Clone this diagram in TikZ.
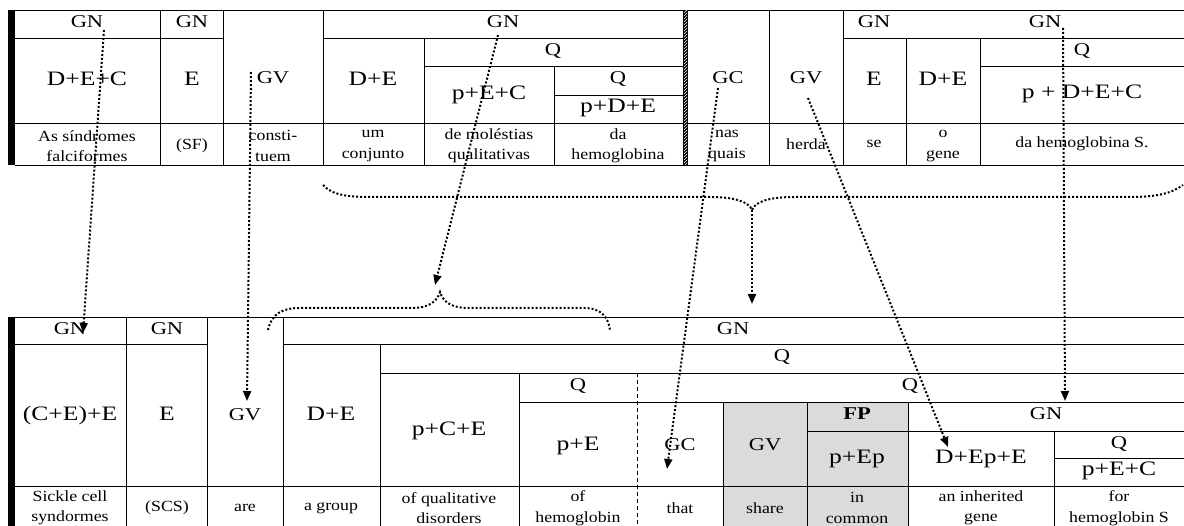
\documentclass[tikz,border=0pt]{standalone}
\usepackage{fontspec}
\setmainfont{Liberation Serif}[FakeStretch=1.15]
\newfontfamily\widefont{Liberation Serif}[FakeStretch=1.25]
\usetikzlibrary{arrows.meta,patterns}
\begin{document}
\begin{tikzpicture}[x=1pt,y=-1pt,
 grid/.style={line width=0.8pt},
 sm/.style={font=\fontsize{15.5}{20.5}\selectfont, align=center, inner sep=0pt},
 hd/.style={font=\widefont\fontsize{18}{20}\selectfont, inner sep=0pt, text height=0.66em, text depth=0pt},
 bg/.style={font=\widefont\fontsize{20.5}{22}\selectfont, inner sep=0pt, text height=0.66em, text depth=0pt},
 dotline/.style={line width=2pt, dash pattern=on 2pt off 2pt},
 arr/.style={dotline, -{Triangle[length=10pt,width=8pt]}},
]
\useasboundingbox (0,0) rectangle (1184,526);
% ---------- top table ----------
\fill[black] (8,10) rectangle (15,165);
\draw[grid] (15,10) -- (1184,10);
\draw[grid] (15,165) -- (1184,165);
\draw[grid] (15,123) -- (1184,123);
\draw[grid] (15,38) -- (223,38) (323,38) -- (683,38) (843,38) -- (1184,38);
\draw[grid] (424,66) -- (683,66) (980,66) -- (1184,66);
\draw[grid] (554,95) -- (683,95);
\draw[grid] (160,10) -- (160,165) (223,10) -- (223,165) (323,10) -- (323,165)
  (769,10) -- (769,165) (843,10) -- (843,165);
\draw[grid] (424,38) -- (424,165) (554,66) -- (554,165) (906,38) -- (906,165) (980,38) -- (980,165);
\fill[black] (683,10) rectangle (688,165);
\fill[pattern=north east lines, pattern color=white] (684,10) rectangle (687,165);
% top labels
\node[hd] (tgn1) at (87,24) {GN};
\node[hd] (tgn2) at (192,24) {GN};
\node[hd] (tgv1) at (273,80) {GV};
\node[hd] (tgn3) at (503,24) {GN};
\node[hd] (tq1) at (553,52) {Q};
\node[hd] (tq2) at (618,80) {Q};
\node[hd] (tgc) at (728,80) {GC};
\node[hd] (tgv2) at (806,80) {GV};
\node[hd] (tgn4) at (874,24) {GN};
\node[hd] (tgn5) at (1045,24) {GN};
\node[hd] (tq3) at (1082,52) {Q};
\node[bg] (tdec) at (87,82) {D+E+C};
\node[bg] (te1) at (192,82) {E};
\node[bg] (tde1) at (373,82) {D+E};
\node[bg] (tpec) at (489,96) {p+E+C};
\node[bg] (tpde) at (618,109) {p+D+E};
\node[bg] (te2) at (874,82) {E};
\node[bg] (tde2) at (943,82) {D+E};
\node[bg] (tpdec) at (1082,95) {p + D+E+C};
\node[sm] (tw1) at (87,146) {As síndromes\\falciformes};
\node[sm] (tw2) at (192,146) {(SF)};
\node[sm] (tw3) at (273,146) {consti-\\tuem};
\node[sm] (tw4) at (373,146) {um\\conjunto};
\node[sm] (tw5) at (489,146) {de moléstias\\qualitativas};
\node[sm] (tw6) at (618,146) {da\\hemoglobina};
\node[sm] (tw7) at (727,146) {nas\\quais};
\node[sm] (tw8) at (806,144) {herda};
\node[sm] (tw9) at (874,144) {se};
\node[sm] (tw10) at (943,146) {o\\gene};
\node[sm] (tw11) at (1082,144) {da hemoglobina S.};
% ---------- bottom table ----------
\fill[black!14] (723,402) rectangle (908,526);
\fill[black] (8,317) rectangle (15,526);
\draw[grid] (15,317) -- (1184,317);
\draw[grid] (15,344) -- (207,344) (283,344) -- (1184,344);
\draw[grid] (380,373) -- (1184,373);
\draw[grid] (519,402) -- (1184,402);
\draw[grid] (807,431) -- (1184,431);
\draw[grid] (1054,458) -- (1184,458);
\draw[grid] (15,486) -- (1184,486);
\draw[grid] (126,317) -- (126,526) (207,317) -- (207,526) (283,317) -- (283,526);
\draw[grid] (380,344) -- (380,526) (519,373) -- (519,526);
\draw[line width=0.8pt, dash pattern=on 4pt off 3pt] (637,373) -- (637,526);
\draw[grid] (723,402) -- (723,526) (807,402) -- (807,526) (908,402) -- (908,526) (1054,431) -- (1054,526);
% bottom labels
\node[hd] (bgn1) at (70,331) {GN};
\node[hd] (bgn2) at (167,331) {GN};
\node[hd] (bgn3) at (733,331) {GN};
\node[hd] (bq1) at (782,358) {Q};
\node[hd] (bq2) at (578,387) {Q};
\node[hd] (bq3) at (910,387) {Q};
\node[bg] (bcee) at (70,417) {(C+E)+E};
\node[bg] (be) at (167,417) {E};
\node[hd] (bgv1) at (245,417) {GV};
\node[bg] (bde) at (331,417) {D+E};
\node[bg] (bpce) at (449,432) {p+C+E};
\node[bg] (bpe) at (578,447) {p+E};
\node[hd] (bgc) at (680,447) {GC};
\node[hd] (bgv2) at (765,447) {GV};
\node[hd, font=\widefont\fontsize{18}{20}\selectfont\bfseries] (bfp) at (857,416) {FP};
\node[bg] (bpep) at (857,460) {p+Ep};
\node[hd] (bgn4) at (1046,416) {GN};
\node[bg] (bdepe) at (981,460) {D+Ep+E};
\node[hd] (bq4) at (1119,445) {Q};
\node[bg] (bpec) at (1119,472) {p+E+C};
\node[sm] (bw1) at (70,508) {Sickle cell\\syndormes};
\node[sm] (bw2) at (167,508) {(SCS)};
\node[sm] (bw3) at (245,508) {are};
\node[sm] (bw4) at (331,508) {a group};
\node[sm] (bw5) at (449,508) {of qualitative\\disorders};
\node[sm] (bw6) at (578,508) {of\\hemoglobin};
\node[sm] (bw7) at (680,508) {that};
\node[sm] (bw8) at (765,508) {share};
\node[sm] (bw9) at (857,508) {in\\common};
\node[sm] (bw10) at (981,508) {an inherited\\gene};
\node[sm] (bw11) at (1119,508) {for\\hemoglobin S};
% ---------- braces ----------
\coordinate (tbL) at (323,185);
\coordinate (tbC) at (752,210);
\coordinate (tbR) at (1183,185);
\draw[dotline] (tbL) .. controls (333,196) and (350,197) .. (375,197) -- (710,197)
  .. controls (735,197) and (749,202) .. (tbC)
  .. controls (755,202) and (768,197) .. (795,197) -- (1130,197)
  .. controls (1158,197) and (1172,193) .. (tbR);
\coordinate (tbT) at (752,304);
\draw[arr] (tbC) -- (tbT);
\coordinate (bbL) at (268,330);
\coordinate (bbC) at (440,292);
\coordinate (bbR) at (610,330);
\draw[dotline] (bbL) .. controls (272,313) and (283,308) .. (300,308) -- (412,308)
  .. controls (428,308) and (437,302) .. (bbC)
  .. controls (443,302) and (452,308) .. (468,308) -- (585,308)
  .. controls (600,308) and (608,316) .. (bbR);
% ---------- arrows ----------
\coordinate (a1s) at (104,30);  \coordinate (a1e) at (83,333);
\coordinate (a2s) at (251,72);  \coordinate (a2e) at (247,401);
\coordinate (a3s) at (498,35);  \coordinate (a3e) at (435,285);
\coordinate (a4s) at (718,88);  \coordinate (a4e) at (667,469);
\coordinate (a5s) at (808,98);  \coordinate (a5e) at (948,447);
\coordinate (a6s) at (1063,28); \coordinate (a6e) at (1065,401);
\draw[arr] (a1s) -- (a1e);
\draw[arr] (a2s) -- (a2e);
\draw[arr] (a3s) -- (a3e);
\draw[arr] (a4s) -- (a4e);
\draw[arr] (a5s) -- (a5e);
\draw[arr] (a6s) -- (a6e);
\end{tikzpicture}
\end{document}
